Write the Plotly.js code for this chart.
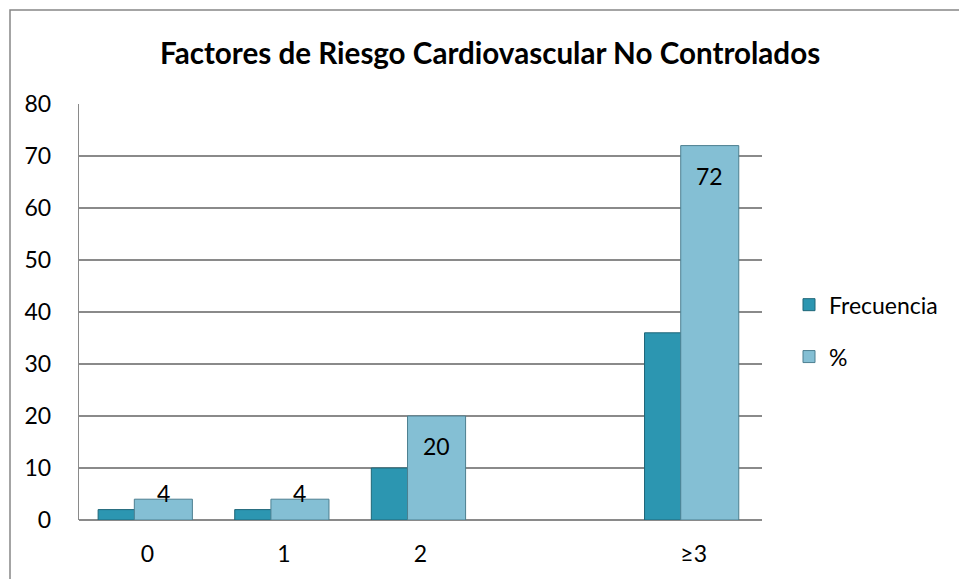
<!DOCTYPE html>
<html>
<head>
<meta charset="utf-8">
<script src="https://cdn.plot.ly/plotly-3.0.1.min.js"></script>
<style>
  html, body { margin: 0; padding: 0; background: #fff; }
  #chart { width: 959px; height: 579px; }
</style>
</head>
<body>
<div id="chart"></div>
<script>
// ---- data ----
const categories = ["0", "1", "2", " ", "≥3"];
const frecuencia = [2, 2, 10, null, 36];
const porcentaje = [4, 4, 20, null, 72];
const seriesNames = ["Frecuencia", "%"];
const titleText = "Factores de Riesgo Cardiovascular No Controlados";
const yTicks = [0, 10, 20, 30, 40, 50, 60, 70, 80];

// ---- layout constants ----
const W = 959, H = 579;
const M = { l: 79, r: 197, t: 104, b: 59 };
const plotW = W - M.l - M.r, plotH = H - M.t - M.b;
const yMax = 80;
const pxPerUnit = plotH / yMax;
const barW = 0.425;
const offFreq = -0.36, offPct = -0.095;
const font = "Lato, 'Open Sans', sans-serif";

const traces = [
  {
    type: "bar", name: seriesNames[0], x: categories, y: frecuencia,
    width: barW, offset: offFreq,
    marker: { color: "#2c96b1", line: { color: "#1f6678", width: 1 } },
    legendgroup: "a", hoverinfo: "x+y+name"
  },
  {
    type: "bar", name: seriesNames[1], x: categories, y: porcentaje,
    width: barW, offset: offPct,
    marker: { color: "#84bfd4", line: { color: "#4d7f90", width: 1 } },
    legendgroup: "b", hoverinfo: "x+y+name"
  }
];

// data labels on % bars
const annotations = [];
porcentaje.forEach((v, i) => {
  if (v == null) return;
  const hPx = v * pxPerUnit;
  const shift = -Math.min(30, hPx - 27);
  annotations.push({
    x: i + offPct + barW / 2, y: v, xref: "x", yref: "y",
    text: String(v), showarrow: false, yanchor: "middle", yshift: shift,
    font: { family: font, size: 23, color: "#000" }
  });
});

// outer chart border (extends beyond the image on right/bottom)
const bx0 = (10 - M.l) / plotW, by1 = 1 + (M.t - 10) / plotH;
const shapes = [
  { type: "rect", xref: "paper", yref: "paper", x0: bx0, x1: 1 + (M.r + 20) / plotW,
    y0: -(M.b + 20) / plotH, y1: by1, line: { color: "#868686", width: 1.5 }, fillcolor: "rgba(0,0,0,0)", layer: "below" }
];

const layout = {
  width: W, height: H,
  margin: M,
  paper_bgcolor: "#fff", plot_bgcolor: "#fff",
  barmode: "overlay",
  title: {
    text: "<b>" + titleText + "</b>",
    x: 0.511, xanchor: "center", y: 1 - 54 / H, yanchor: "middle",
    font: { family: font, size: 29.6, color: "#000" }
  },
  xaxis: {
    type: "category", categoryorder: "array", categoryarray: categories,
    range: [-0.5, 4.5],
    showgrid: false, zeroline: false,
    showline: false, ticks: "",
    ticklabelstandoff: 18,
    tickfont: { family: font, size: 23, color: "#000" },
    fixedrange: true
  },
  yaxis: {
    range: [0, yMax], tickvals: yTicks,
    showgrid: true, gridcolor: "#8a8a8a", gridwidth: 1.2,
    zeroline: true, zerolinecolor: "#8a8a8a", zerolinewidth: 1.2,
    showline: true, linecolor: "#8a8a8a", linewidth: 1.2,
    ticks: "", ticklabelstandoff: 22,
    tickfont: { family: font, size: 23, color: "#000" },
    fixedrange: true
  },
  legend: {
    x: 1 + (789 - 762) / plotW, xanchor: "left",
    y: 0.455, yanchor: "middle",
    font: { family: font, size: 23, color: "#000" },
    traceorder: "grouped", tracegroupgap: 19,
    itemwidth: 30
  },
  showlegend: true,
  annotations: annotations,
  shapes: shapes
};

Plotly.newPlot("chart", traces, layout, { displayModeBar: false, staticPlot: true });
</script>
</body>
</html>
